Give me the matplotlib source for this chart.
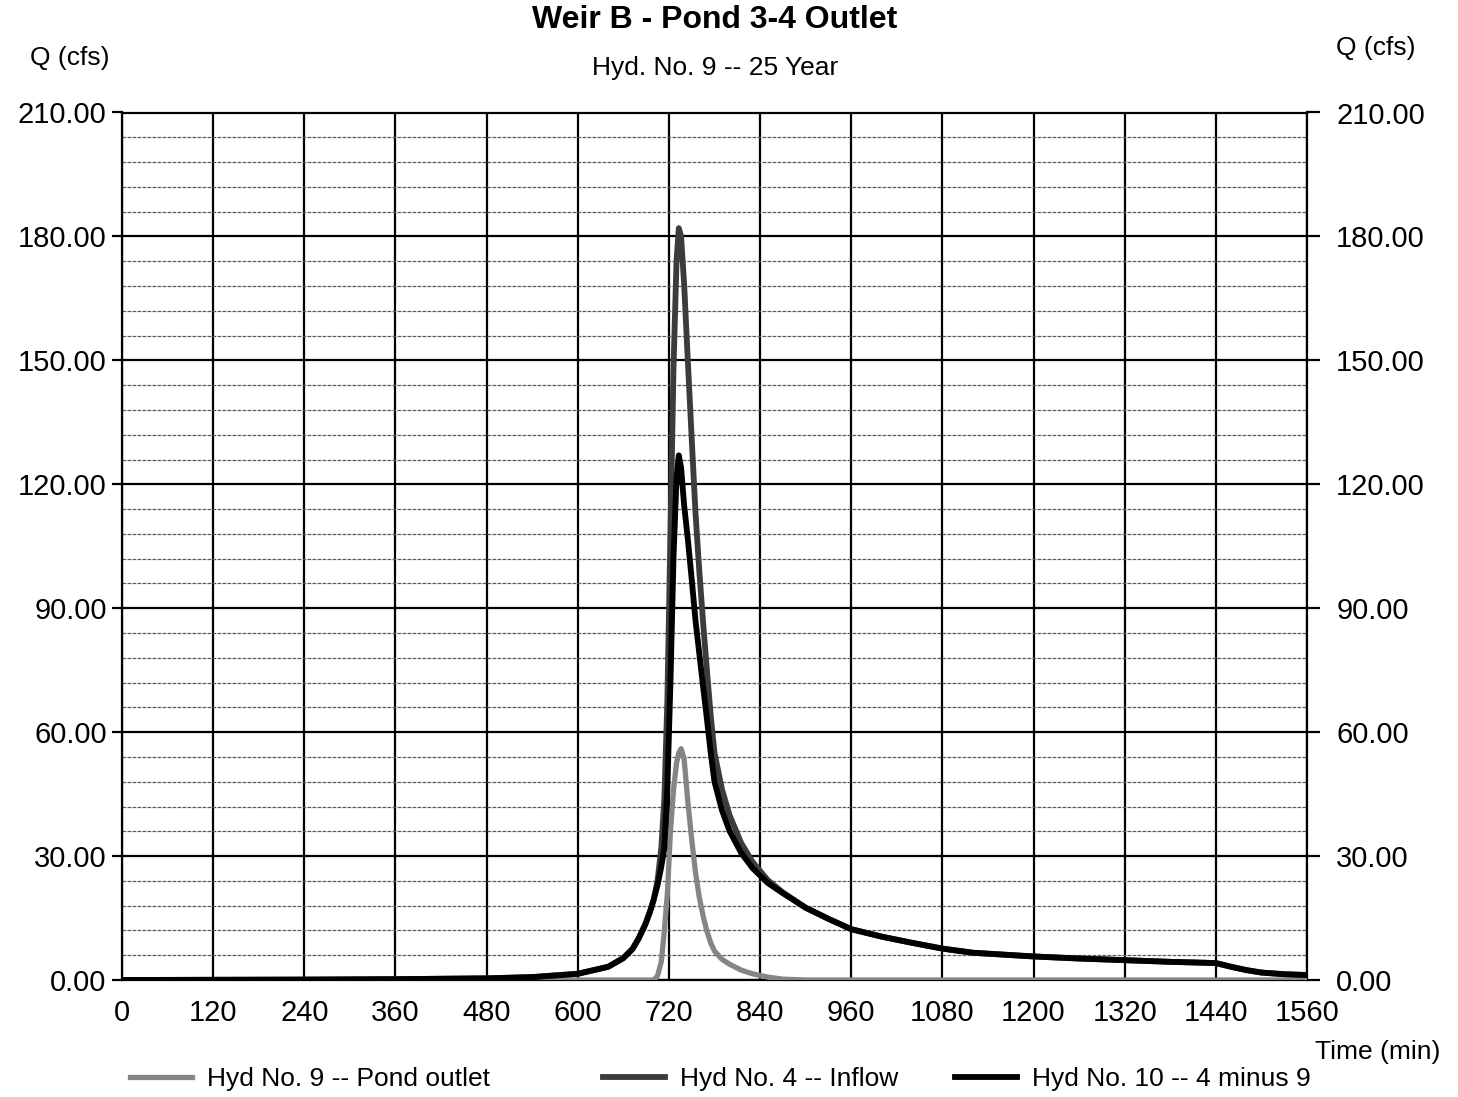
import numpy as np
import matplotlib.pyplot as plt
from matplotlib.lines import Line2D

plt.rcParams['font.family'] = ['Liberation Sans', 'DejaVu Sans']

# hydrograph ordinates (min, cfs)
time_min = [0, 120, 240, 360, 480, 540, 600, 640, 660, 672, 680, 689, 695, 700,
            705, 710, 714, 718, 722, 726, 730, 733, 736, 740, 745, 750, 755, 760,
            765, 770, 775, 780, 790, 800, 815, 830, 850, 870, 900, 930, 960, 1000,
            1040, 1080, 1120, 1200, 1260, 1320, 1380, 1440, 1460, 1480, 1500,
            1530, 1560]
inflow = [0, 0.05, 0.1, 0.2, 0.4, 0.7, 1.5, 3.2, 5.3, 7.5, 10, 13.5, 16.5, 19.5,
          24, 32, 44, 68, 108, 148, 174, 182, 180, 168.5, 149.5, 131, 113, 99,
          86.5, 75, 64, 55, 46, 39.8, 33.2, 28.6, 24.2, 21.2, 17.5, 14.8, 12.3, 10.5,
          9.0, 7.6, 6.6, 5.7, 5.2, 4.8, 4.4, 4.1, 3.2, 2.4, 1.8,
          1.4, 1.2]
pond_outlet = [0, 0, 0, 0, 0, 0, 0, 0, 0, 0, 0, 0, 0, 0,
               1, 4.5, 12, 21, 36, 46, 52.5, 55, 56, 53.5, 43, 34, 26, 20,
               15.5, 11.8, 9, 7, 5, 3.8, 2.4, 1.5, 0.7, 0.2, 0, 0, 0, 0,
               0, 0, 0, 0, 0, 0, 0, 0, 0, 0, 0,
               0, 0]
hyd10 = [0, 0.05, 0.1, 0.2, 0.4, 0.7, 1.5, 3.2, 5.3, 7.5, 10, 13.5, 16.5, 19.5,
         23, 27.5, 32, 47, 72, 102, 121.5, 127, 124, 115, 106.5, 97, 87, 79,
         71, 63.2, 55, 48, 41, 36, 30.8, 27.1, 23.5, 21, 17.5, 14.8, 12.3, 10.5,
         9.0, 7.6, 6.6, 5.7, 5.2, 4.8, 4.4, 4.1, 3.2, 2.4, 1.8,
         1.4, 1.2]

x_ticks = list(range(0, 1561, 120))
y_ticks = list(range(0, 211, 30))
y_minor = [v for v in range(0, 211, 6) if v % 30 != 0]

W, H = 1458, 1097
fig = plt.figure(figsize=(W / 100, H / 100), dpi=100)
ax = fig.add_axes([122 / W, 1 - 980 / H, (1307 - 122) / W, (980 - 112.5) / H])

c_out = '#858585'
c_in = '#3c3c3c'
c_10 = '#000000'
ax.plot(time_min, pond_outlet, color=c_out, lw=3.8, zorder=4)
ax.plot(time_min, inflow, color=c_in, lw=4.2, zorder=5)
ax.plot(time_min, hyd10, color=c_10, lw=4.2, zorder=6)

ax.set_xlim(0, 1560)
ax.set_ylim(0, 210)
ax.set_xticks(x_ticks)
ax.set_yticks(y_ticks)
ax.set_yticks(y_minor, minor=True)
ax.set_yticklabels([f'{v:.2f}' for v in y_ticks])
ax.grid(which='major', axis='both', color='black', lw=1.6, zorder=1)
ax.grid(which='minor', axis='y', color='#5a5a5a', lw=0.9, ls=(0, (3, 1)), zorder=1)
ax.tick_params(axis='x', length=0, pad=14, labelsize=21)
ax.tick_params(axis='y', which='major', direction='out', length=7, width=1.6,
               pad=4, labelsize=21)
ax.tick_params(axis='y', which='minor', length=0)
for s in ax.spines.values():
    s.set_linewidth(1.6)

ax2 = ax.twinx()
ax2.set_ylim(0, 210)
ax2.set_yticks(y_ticks)
ax2.set_yticklabels([f'{v:.2f}' for v in y_ticks])
ax2.tick_params(axis='y', direction='out', length=9, width=1.6, pad=12, labelsize=21)
for s in ax2.spines.values():
    s.set_visible(False)

fig.text(715 / W, 1 - 20 / H, 'Weir B - Pond 3-4 Outlet', ha='center', va='center',
         fontsize=23, fontweight='bold')
fig.text(715 / W, 1 - 68 / H, 'Hyd. No. 9 -- 25 Year', ha='center', va='center', fontsize=19)
fig.text(70 / W, 1 - 58 / H, 'Q (cfs)', ha='center', va='center', fontsize=19)
fig.text(1376 / W, 1 - 48 / H, 'Q (cfs)', ha='center', va='center', fontsize=19)
fig.text(1378 / W, 1 - 1052 / H, 'Time (min)', ha='center', va='center', fontsize=19)

# legend entries spaced along the bottom
entries = [('Hyd No. 9 -- Pond outlet', c_out, 3.8, 130),
           ('Hyd No. 4 -- Inflow', c_in, 4.2, 603),
           ('Hyd No. 10 -- 4 minus 9', c_10, 4.2, 955)]
for label, col, lw, x0 in entries:
    h = Line2D([], [], color=col, lw=lw)
    fig.legend([h], [label], loc='center left', bbox_to_anchor=(x0 / W, 1 - 1079 / H),
               frameon=False, fontsize=19, handlelength=2.35, handletextpad=0.57,
               borderpad=0, borderaxespad=0)

fig.savefig('out.png', dpi=100, facecolor='white')
